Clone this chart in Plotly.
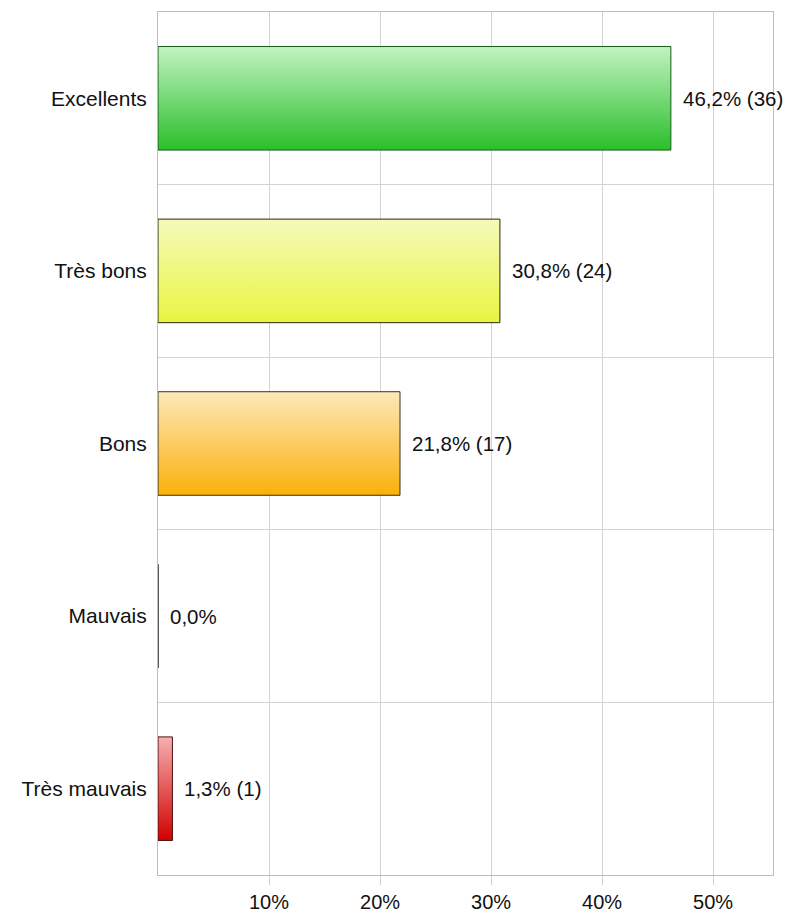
import plotly.graph_objects as go

categories = ["Excellents", "Très bons", "Bons", "Mauvais", "Très mauvais"]
percents = [46.2, 30.8, 21.8, 0.0, 1.3]
counts = [36, 24, 17, 0, 1]
colors_dark = ["#2abf2a", "#e8f540", "#fbb00a", "#ff6a00", "#d20000"]
colors_light = ["#c2f2c2", "#f5fabc", "#fde8b8", "#ffb070", "#f6b0b0"]
edge_colors = ["#16601a", "#2a2a10", "#3a3020", "#222222", "#501010"]
x_ticks = [10, 20, 30, 40, 50]
x_tick_labels = ["10%", "20%", "30%", "40%", "50%"]

n = len(categories)
ypos = [n - 1 - i for i in range(n)]
half = 0.3
FONT = "Liberation Sans, Arial, sans-serif"
FS = 21

fig = go.Figure()
for i, cat in enumerate(categories):
    v = percents[i]
    y0, y1 = ypos[i] - half, ypos[i] + half
    fig.add_trace(go.Scatter(
        x=[0, v, v, 0, 0],
        y=[y0, y0, y1, y1, y0],
        mode="lines",
        fill="toself",
        fillgradient=dict(type="vertical",
                          colorscale=[[0, colors_dark[i]], [1, colors_light[i]]]),
        line=dict(color=edge_colors[i], width=1),
        cliponaxis=False,
        showlegend=False,
        hoverinfo="skip",
    ))

def fmt(p, c):
    s = f"{p:.1f}".replace(".", ",") + "%"
    if c > 0:
        s += f" ({c})"
    return s

for i, cat in enumerate(categories):
    fig.add_annotation(
        x=percents[i], y=ypos[i], text=fmt(percents[i], counts[i]),
        xanchor="left", yanchor="middle", xshift=10, showarrow=False,
        font=dict(family=FONT, size=FS - 0.5, color="#111111"),
    )

fig.update_layout(
    width=784, height=906,
    margin=dict(l=150, r=19, t=4, b=39),
    paper_bgcolor="white", plot_bgcolor="white",
    font=dict(family=FONT, size=FS, color="#111111"),
    showlegend=False,
)
fig.update_xaxes(
    range=[0, 55.4], tickvals=x_ticks, ticktext=x_tick_labels,
    showgrid=True, gridcolor="#d3d3d3", gridwidth=1,
    showline=True, linecolor="#bdbdbd", linewidth=1, mirror=True,
    ticks="outside", ticklen=9, tickcolor="#cfcfcf", tickwidth=1,
    zeroline=False, fixedrange=True, automargin=False,
    tickfont=dict(family=FONT, size=20, color="#111111"),
)
fig.update_yaxes(
    range=[-0.5, n - 0.5], tickvals=ypos, ticktext=categories,
    showgrid=False,
    minor=dict(tickvals=[k + 0.5 for k in range(n - 1)], showgrid=True,
               gridcolor="#d3d3d3", gridwidth=1, ticks=""),
    showline=True, linecolor="#bdbdbd", linewidth=1, mirror=True,
    ticks="", ticklabelstandoff=6, zeroline=False, fixedrange=True,
    automargin=False,
    tickfont=dict(family=FONT, size=FS, color="#111111"),
)

fig.write_html("out.html")
